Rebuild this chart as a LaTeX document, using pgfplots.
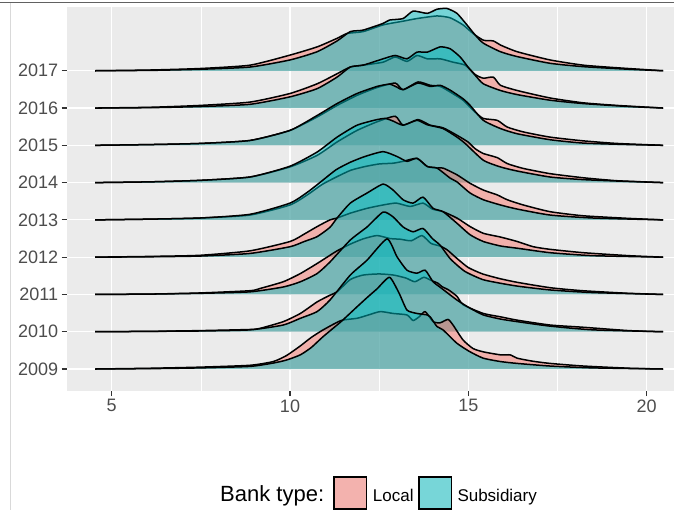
\documentclass[border=0pt]{standalone}
\usepackage{pgfplots}
\usepackage{pgfplotstable}
\pgfplotsset{compat=1.18}
\usepackage{fontspec}
\setmainfont{Liberation Sans}
\definecolor{localc}{HTML}{F8766D}
\definecolor{subc}{HTML}{00BFC4}
\definecolor{gray92}{HTML}{EBEBEB}
\definecolor{tickgray}{HTML}{4D4D4D}
\definecolor{tickdark}{HTML}{333333}
\definecolor{localkey}{HTML}{F3B2AE}
\definecolor{subkey}{HTML}{77D6D8}

% 2009
\pgfplotstableread{
x h
4.54 0
6.08 0.02
7.48 0.05
8.88 0.10
9.53 0.20
9.90 0.36
10.29 0.62
10.60 0.85
10.93 1.05
11.43 1.30
11.88 1.36
12.20 1.45
12.53 1.54
12.89 1.49
13.28 1.45
13.45 1.30
13.62 1.40
13.79 1.54
14.01 1.27
14.21 1.24
14.43 1.33
14.57 1.18
14.85 0.78
15.13 0.55
15.42 0.46
15.90 0.38
16.17 0.38
16.37 0.29
16.80 0.21
17.29 0.15
18.22 0.08
19.54 0.02
20.46 0
}\LocA
\pgfplotstableread{
x h
4.54 0
6.08 0.01
7.48 0.03
8.88 0.07
9.53 0.16
9.90 0.24
10.29 0.38
10.60 0.58
10.93 0.87
11.43 1.27
11.88 1.67
12.20 1.95
12.44 2.15
12.79 2.46
13.06 2.03
13.28 1.58
13.56 1.49
13.85 1.45
13.93 1.40
14.12 1.14
14.29 1.05
14.68 0.69
15.05 0.46
15.42 0.29
15.90 0.20
16.37 0.15
17.29 0.08
18.50 0.03
20.46 0
}\SubA
% 2010
\pgfplotstableread{
x h
4.54 0
6.08 0.01
7.48 0.03
8.88 0.06
9.16 0.09
9.81 0.27
10.29 0.49
10.76 0.80
11.12 0.98
11.32 1.07
11.69 1.40
12.05 1.52
12.50 1.55
12.90 1.52
13.25 1.44
13.50 1.34
13.75 1.46
13.95 1.38
14.15 1.30
14.26 1.21
14.45 1.12
14.68 0.95
14.86 0.72
15.42 0.49
15.90 0.40
16.37 0.31
17.29 0.18
18.22 0.12
19.50 0.03
20.46 0
}\LocB
\pgfplotstableread{
x h
4.54 0
6.08 0.01
7.48 0.02
8.88 0.05
9.81 0.18
10.29 0.36
10.76 0.54
11.12 0.85
11.69 1.52
12.16 1.92
12.72 2.49
13.00 2.01
13.28 1.65
13.56 1.57
13.79 1.65
14.01 1.34
14.20 1.20
14.68 0.85
15.05 0.63
15.42 0.45
15.90 0.34
16.37 0.27
17.29 0.15
18.50 0.05
20.46 0
}\SubB
% 2011
\pgfplotstableread{
x h
4.54 0
6.08 0.01
7.48 0.04
8.88 0.10
9.16 0.16
9.81 0.34
10.29 0.56
10.76 0.83
11.12 1.05
11.32 1.17
11.69 1.35
12.05 1.49
12.44 1.58
12.80 1.50
13.10 1.48
13.40 1.44
13.70 1.58
13.95 1.37
14.20 1.30
14.40 1.20
14.70 0.95
15.00 0.72
15.40 0.55
15.90 0.42
16.40 0.32
17.30 0.18
18.20 0.10
19.50 0.03
20.46 0
}\LocC
\pgfplotstableread{
x h
4.54 0
6.08 0.01
7.48 0.03
8.88 0.07
9.81 0.20
10.29 0.34
10.76 0.56
11.12 0.87
11.69 1.46
12.16 1.81
12.61 2.21
12.89 2.08
13.17 1.81
13.45 1.68
13.73 1.77
13.99 1.50
14.21 1.32
14.50 0.95
14.90 0.62
15.40 0.40
15.90 0.30
16.40 0.22
17.30 0.12
18.50 0.05
20.46 0
}\SubC
% 2012
\pgfplotstableread{
x h
4.54 0
6.08 0.02
7.48 0.05
8.88 0.17
10.00 0.42
10.40 0.62
10.76 0.82
11.12 1.00
11.32 1.05
11.69 1.18
12.16 1.31
12.61 1.40
12.98 1.45
13.37 1.36
13.73 1.45
13.99 1.29
14.29 1.22
14.68 1.05
15.05 0.82
15.42 0.64
15.90 0.54
16.37 0.42
16.82 0.28
17.29 0.21
18.22 0.12
19.50 0.04
20.46 0
}\LocD
\pgfplotstableread{
x h
4.54 0
6.08 0.01
7.48 0.03
8.88 0.10
10.00 0.28
10.40 0.42
10.76 0.55
11.12 0.80
11.32 1.05
11.69 1.45
12.16 1.72
12.61 1.96
12.89 1.80
13.17 1.54
13.45 1.45
13.73 1.61
14.01 1.31
14.29 1.22
14.68 0.91
15.05 0.60
15.42 0.42
15.90 0.30
16.37 0.24
17.29 0.12
18.50 0.04
20.46 0
}\SubD
% 2013
\pgfplotstableread{
x h
4.54 0
6.08 0.02
7.48 0.05
8.88 0.13
10.00 0.40
10.50 0.68
10.90 0.95
11.30 1.15
11.70 1.33
12.10 1.43
12.50 1.50
12.89 1.52
13.17 1.57
13.56 1.65
13.85 1.43
14.12 1.39
14.29 1.39
14.68 1.21
15.05 0.98
15.42 0.80
15.81 0.67
16.09 0.54
16.54 0.40
17.29 0.22
18.22 0.11
19.50 0.04
20.46 0
}\LocE
\pgfplotstableread{
x h
4.54 0
6.08 0.02
7.48 0.05
8.88 0.15
10.00 0.45
10.50 0.75
10.90 1.05
11.30 1.35
11.70 1.55
12.10 1.70
12.61 1.83
13.00 1.70
13.28 1.57
13.56 1.65
13.85 1.43
14.12 1.39
14.49 1.12
14.68 1.02
15.05 0.72
15.42 0.54
15.90 0.40
16.37 0.29
17.29 0.13
18.50 0.05
20.46 0
}\SubE
% 2014
\pgfplotstableread{
x h
4.54 0
6.08 0.02
7.48 0.06
8.88 0.15
10.00 0.42
10.76 0.73
11.32 1.09
11.88 1.40
12.44 1.63
12.95 1.78
13.17 1.54
13.59 1.69
13.93 1.54
14.29 1.47
14.68 1.27
14.99 1.09
15.19 0.91
15.42 0.78
15.81 0.67
16.09 0.51
16.54 0.38
17.29 0.24
18.22 0.13
19.17 0.05
20.46 0
}\LocF
\pgfplotstableread{
x h
4.54 0
6.08 0.02
7.48 0.06
8.88 0.15
10.00 0.44
10.76 0.82
11.32 1.22
11.88 1.54
12.44 1.69
12.68 1.72
12.89 1.65
13.17 1.54
13.56 1.67
13.85 1.55
14.29 1.45
14.68 1.22
14.91 1.05
15.42 0.60
15.90 0.42
16.37 0.31
17.29 0.15
18.22 0.08
19.50 0.03
20.46 0
}\SubF
% 2015
\pgfplotstableread{
x h
4.54 0
6.08 0.02
7.48 0.05
8.88 0.13
10.00 0.40
10.76 0.76
11.32 1.07
11.88 1.34
12.44 1.55
12.95 1.67
13.17 1.49
13.59 1.70
13.93 1.61
14.21 1.58
14.49 1.43
14.85 1.21
15.19 0.89
15.42 0.72
15.81 0.67
16.09 0.49
16.54 0.36
17.29 0.22
18.22 0.12
19.17 0.05
20.46 0
}\LocG
\pgfplotstableread{
x h
4.54 0
6.08 0.02
7.48 0.05
8.88 0.13
10.00 0.40
10.76 0.80
11.32 1.12
11.88 1.39
12.44 1.58
12.79 1.64
13.00 1.56
13.17 1.49
13.59 1.67
13.93 1.58
14.21 1.61
14.49 1.48
14.85 1.25
15.05 1.07
15.42 0.67
15.90 0.45
16.37 0.31
17.29 0.15
18.22 0.06
19.50 0.02
20.46 0
}\SubG
% 2016
\pgfplotstableread{
x h
4.54 0
6.08 0.02
7.48 0.07
8.88 0.16
10.00 0.39
10.76 0.65
11.32 0.92
11.69 1.10
12.05 1.15
12.61 1.23
12.95 1.37
13.28 1.25
13.56 1.41
13.85 1.32
14.21 1.32
14.57 1.23
14.91 1.15
15.19 0.90
15.42 0.80
15.70 0.83
15.90 0.61
16.37 0.47
17.29 0.27
18.22 0.14
19.17 0.07
20.46 0
}\LocH
\pgfplotstableread{
x h
4.54 0
6.08 0.01
7.48 0.04
8.88 0.10
10.00 0.30
10.76 0.52
11.32 0.83
11.69 1.10
12.05 1.15
12.61 1.32
12.95 1.41
13.28 1.32
13.56 1.50
13.85 1.50
14.21 1.64
14.49 1.59
14.77 1.37
14.99 1.10
15.19 0.88
15.42 0.65
15.90 0.47
16.37 0.36
17.29 0.21
18.22 0.12
19.50 0.04
20.46 0
}\SubH
% 2017
\pgfplotstableread{
x h
4.54 0
6.08 0.02
7.48 0.06
8.88 0.15
10.00 0.42
10.76 0.64
11.32 0.87
11.60 1.00
12.05 1.05
12.61 1.23
13.17 1.33
13.56 1.40
14.12 1.47
14.49 1.42
14.85 1.23
15.13 1.00
15.42 0.82
15.70 0.80
15.90 0.69
16.37 0.51
17.29 0.29
18.22 0.15
19.17 0.08
20.46 0
}\LocI
\pgfplotstableread{
x h
4.54 0
6.08 0.01
7.48 0.04
8.88 0.10
10.00 0.29
10.76 0.51
11.32 0.80
11.69 1.05
12.05 1.09
12.61 1.27
12.79 1.36
13.17 1.40
13.45 1.60
13.85 1.54
14.12 1.65
14.40 1.67
14.68 1.54
14.96 1.23
15.19 0.96
15.42 0.74
15.90 0.51
16.37 0.38
17.29 0.20
18.22 0.11
19.50 0.04
20.46 0
}\SubI

\newcommand\ridge[3]{%
  \addplot[draw=none, fill=#3, fill opacity=0.5, smooth, tension=0.35] table[x=x, y expr=\thisrow{h}+#2] {#1};
  \addplot[black, line width=1.5bp, line join=round, smooth, tension=0.35] table[x=x, y expr=\thisrow{h}+#2] {#1};
}

\begin{document}
\begin{tikzpicture}
\useasboundingbox (0,0) rectangle (674bp,-510bp);
\fill[white] (0,0) rectangle (674bp,-510bp);
\begin{axis}[
  at={(66.7bp,-391bp)}, anchor=south west,
  scale only axis, width=607.3bp, height=384bp,
  xmin=3.74, xmax=20.765, ymin=0.41, ymax=10.71,
  axis background/.style={fill=gray92},
  axis line style={draw=none},
  xtick={5,10,15,20}, minor xtick={7.5,12.5,17.5},
  ytick={1,2,3,4,5,6,7,8,9},
  yticklabels={2009,2010,2011,2012,2013,2014,2015,2016,2017},
  grid=both,
  major grid style={white, line width=1.1bp},
  minor grid style={white, line width=0.55bp},
  tick align=outside, tick pos=left,
  major tick length=5bp, minor tick length=0bp,
  every tick/.style={tickdark, line width=1.1bp},
  ticklabel style={font=\fontsize{18bp}{18bp}\selectfont, text=tickgray},
  /pgf/number format/assume math mode=true,
]
\ridge{\LocI}{9}{localc}
\ridge{\SubI}{9}{subc}
\ridge{\LocH}{8}{localc}
\ridge{\SubH}{8}{subc}
\ridge{\LocG}{7}{localc}
\ridge{\SubG}{7}{subc}
\ridge{\LocF}{6}{localc}
\ridge{\SubF}{6}{subc}
\ridge{\LocE}{5}{localc}
\ridge{\SubE}{5}{subc}
\ridge{\LocD}{4}{localc}
\ridge{\SubD}{4}{subc}
\ridge{\LocC}{3}{localc}
\ridge{\SubC}{3}{subc}
\ridge{\LocB}{2}{localc}
\ridge{\SubB}{2}{subc}
\ridge{\LocA}{1}{localc}
\ridge{\SubA}{1}{subc}
\end{axis}
% screenshot frame lines
\draw[color=black!62, line width=1.2bp] (0,-2.7bp) -- (674bp,-2.7bp);
\draw[color=black!15, line width=1bp] (10bp,-3.3bp) -- (10bp,-510bp);
% legend
\node[anchor=base west, inner sep=0pt, font=\fontsize{22bp}{22bp}\selectfont] at (220bp,-501.5bp) {Bank type:};
\draw[fill=localkey, draw=black, line width=1.1bp] (334bp,-477bp) rectangle (366.7bp,-509bp);
\node[anchor=base west, inner sep=0pt, font=\fontsize{17bp}{17bp}\selectfont] at (372.7bp,-501bp) {Local};
\draw[fill=subkey, draw=black, line width=1.1bp] (419bp,-477bp) rectangle (451.7bp,-509bp);
\node[anchor=base west, inner sep=0pt, font=\fontsize{17bp}{17bp}\selectfont] at (457.3bp,-501bp) {Subsidiary};
\end{tikzpicture}
\end{document}
